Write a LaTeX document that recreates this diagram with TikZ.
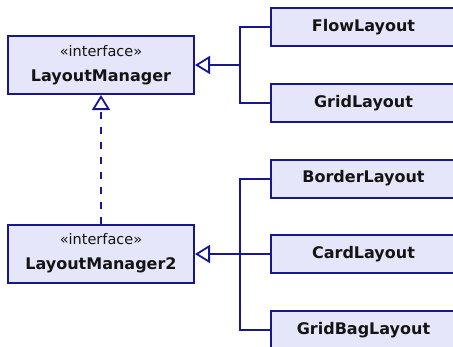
\documentclass[tikz,border=0pt]{standalone}
\usepackage{fontspec}
\setmainfont{DejaVu Sans}
\definecolor{BoxFill}{RGB}{230,230,250}
\definecolor{BoxLine}{RGB}{24,24,140}
\definecolor{TextColor}{RGB}{20,20,20}
\usepackage{tikz}
\usetikzlibrary{arrows.meta}
\newcommand{\stereotype}[1]{{\fontsize{14.5}{25}\selectfont\guillemotleft #1\guillemotright}}
\newcommand{\classname}[1]{{\bfseries #1}}
\tikzset{
  umlclass/.style={rectangle, draw=BoxLine, fill=BoxFill, line width=2pt, text=TextColor, align=center, inner sep=0pt, font=\fontsize{16}{25}\selectfont},
  iface/.style={umlclass, minimum width=186pt, minimum height=58pt},
  impl/.style={umlclass, minimum width=185pt, minimum height=38pt},
  inherit/.style={draw=BoxLine, line width=2pt, -{Triangle[open, length=15pt, width=18pt, line width=1.8pt]}},
  branch/.style={draw=BoxLine, line width=2pt},
  realize/.style={inherit, dash pattern=on 7pt off 8pt}
}

\begin{document}
\begin{tikzpicture}[x=1pt, y=-1pt]
  \useasboundingbox (0,0) rectangle (453,346);

  % Interfaces
  \node[iface] (lm) at (101,65) {\stereotype{interface}\\\classname{LayoutManager}};
  \node[iface] (lmtwo) at (101,253.5) {\stereotype{interface}\\\classname{LayoutManager2}};

  % Implementations
  \node[impl] (flow) at (363.5,27) {\classname{FlowLayout}};
  \node[impl] (grid) at (363.5,103) {\classname{GridLayout}};
  \node[impl] (border) at (363.5,178.5) {\classname{BorderLayout}};
  \node[impl] (card) at (363.5,254) {\classname{CardLayout}};
  \node[impl] (gridbag) at (363.5,330) {\classname{GridBagLayout}};

  % Bus points
  \coordinate (busA) at (240,65);
  \coordinate (busB) at (240,254);

  % Generalization
  \draw[branch] (flow.west) -| (busA);
  \draw[branch] (grid.west) -| (busA);
  \draw[inherit] (busA) -- (lm.east);
  \draw[branch] (border.west) -| (busB);
  \draw[branch] (gridbag.west) -| (busB);
  \draw[branch] (card.west) -- (busB);
  \draw[inherit] (busB) -- (lmtwo.east |- busB);

  % Realization
  \draw[realize] (lmtwo.north) -- (lm.south);
\end{tikzpicture}
\end{document}
